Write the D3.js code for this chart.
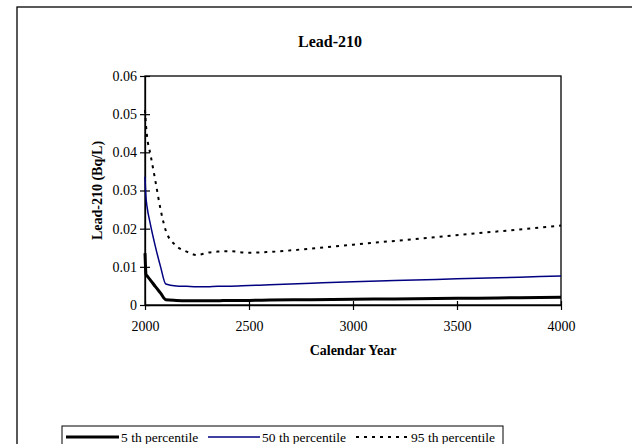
<!DOCTYPE html>
<meta charset="utf-8">
<style>
body{
    margin: 0;
    background: #fff;
}
svg text{
    font-family: "Liberation Serif", "Times New Roman", serif;
    fill: #000;
}
</style>
<body>
    <script src="https://d3js.org/d3.v7.min.js"></script>
    <script>
        // values
        const years = [2000, 2005, 2010, 2025, 2050, 2075, 2100, 2150, 2200, 2250, 2300, 2350, 2400, 2500, 2600, 2800, 3000, 3200, 3400, 3600, 3800, 4000];
        const p5  = [0.0136, 0.0080, 0.0076, 0.0066, 0.0048, 0.0031, 0.0014, 0.0012, 0.0011, 0.0011, 0.0011, 0.0011, 0.0012, 0.0012, 0.0013, 0.0014, 0.0015, 0.0016, 0.0017, 0.0018, 0.0019, 0.0020];
        const p50 = [0.0336, 0.0280, 0.0257, 0.0214, 0.0153, 0.0100, 0.0055, 0.0050, 0.0049, 0.0048, 0.0048, 0.0049, 0.0049, 0.0051, 0.0053, 0.0057, 0.0061, 0.0064, 0.0067, 0.0070, 0.0073, 0.0076];
        const p95 = [0.0511, 0.0470, 0.0441, 0.0398, 0.0325, 0.0250, 0.0195, 0.0155, 0.0140, 0.0131, 0.0137, 0.0140, 0.0141, 0.0137, 0.0139, 0.0148, 0.0158, 0.0168, 0.0178, 0.0188, 0.0198, 0.0208];
        const xTicks = [2000, 2500, 3000, 3500, 4000];
        const yTicks = [0, 0.01, 0.02, 0.03, 0.04, 0.05, 0.06];
        const yTickLabels = ["0", "0.01", "0.02", "0.03", "0.04", "0.05", "0.06"];
        const seriesNames = ["5 th percentile", "50 th percentile", "95 th percentile"];

        const width = 632, height = 444;
        const svg = d3.select("body").append("svg")
                    .attr("width", width)
                    .attr("height", height);

        // outer chart frame (runs past the right and bottom edges)
        svg.append("rect")
            .attr("x", 17).attr("y", 7)
            .attr("width", 700).attr("height", 500)
            .attr("fill", "none")
            .attr("stroke", "#000")
            .attr("stroke-width", 1.3);

        const x = d3.scaleLinear().domain([2000, 4000]).range([145, 561]);
        const y = d3.scaleLinear().domain([0, 0.06]).range([305, 76]);

        // plot area box
        svg.append("rect")
            .attr("x", x(2000)).attr("y", y(0.06))
            .attr("width", x(4000) - x(2000))
            .attr("height", y(0) - y(0.06))
            .attr("fill", "none")
            .attr("stroke", "#000")
            .attr("stroke-width", 1.3);

        const xAxis = svg.append("g")
            .attr("transform", `translate(0,${y(0)})`)
            .call(d3.axisBottom(x).tickValues(xTicks).tickSize(0).tickPadding(16).tickFormat(d3.format("d")));
        const yAxis = svg.append("g")
            .attr("transform", `translate(${x(2000)},0)`)
            .call(d3.axisLeft(y).tickValues(yTicks).tickSize(0).tickPadding(8)
                .tickFormat((d, i) => yTickLabels[i]));

        [xAxis, yAxis].forEach(g => {
            g.select(".domain").attr("stroke", "#000").attr("stroke-width", 1.3);
            g.selectAll("text").attr("font-size", 14).attr("font-family", "Liberation Serif");
        });
        xAxis.selectAll(".tick").append("line")
            .attr("y1", -4).attr("y2", 5).attr("stroke", "#000").attr("stroke-width", 1.2);
        yAxis.selectAll(".tick").append("line")
            .attr("x1", -5).attr("x2", 5).attr("stroke", "#000").attr("stroke-width", 1.2);

        // titles
        svg.append("text")
            .attr("x", 330).attr("y", 47)
            .attr("text-anchor", "middle")
            .attr("font-size", 16).attr("font-weight", "bold")
            .text("Lead-210");
        svg.append("text")
            .attr("x", (x(2000) + x(4000)) / 2).attr("y", 355)
            .attr("text-anchor", "middle")
            .attr("font-size", 14).attr("font-weight", "bold")
            .text("Calendar Year");
        svg.append("text")
            .attr("transform", `translate(102,${(y(0) + y(0.06)) / 2}) rotate(-90)`)
            .attr("text-anchor", "middle")
            .attr("font-size", 14).attr("font-weight", "bold")
            .text("Lead-210 (Bq/L)");

        const styles = [
            {color: "#000", w: 3, dash: null},
            {color: "#000080", w: 1.5, dash: null},
            {color: "#000", w: 2, dash: "3,5"}
        ];
        const series = [p5, p50, p95];

        const line = d3.line()
            .x((d, i) => x(years[i]))
            .y(d => y(d))
            .curve(d3.curveMonotoneX);

        svg.append("g").selectAll("path")
            .data(series)
            .join("path")
            .attr("d", line)
            .attr("fill", "none")
            .attr("stroke", (d, i) => styles[i].color)
            .attr("stroke-width", (d, i) => styles[i].w)
            .attr("stroke-dasharray", (d, i) => styles[i].dash)
            .attr("stroke-linejoin", "round");

        // legend
        const lg = svg.append("g");
        lg.append("rect")
            .attr("x", 62).attr("y", 426)
            .attr("width", 441).attr("height", 22)
            .attr("fill", "#fff")
            .attr("stroke", "#000")
            .attr("stroke-width", 1);
        const legendPos = [
            {x1: 66, x2: 119, tx: 121},
            {x1: 208, x2: 260, tx: 262},
            {x1: 356, x2: 408, tx: 411}
        ];
        seriesNames.forEach((name, i) => {
            lg.append("line")
                .attr("x1", legendPos[i].x1).attr("x2", legendPos[i].x2)
                .attr("y1", 437).attr("y2", 437)
                .attr("stroke", styles[i].color)
                .attr("stroke-width", styles[i].w)
                .attr("stroke-dasharray", styles[i].dash);
            lg.append("text")
                .attr("x", legendPos[i].tx).attr("y", 442)
                .attr("font-size", 13.5)
                .text(name);
        });
    </script>
</body>
</html>
